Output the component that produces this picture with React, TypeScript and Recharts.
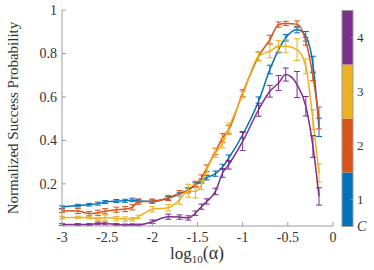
import React from 'react';
import { LineChart, Line, XAxis, YAxis, ErrorBar } from 'recharts';

// log10(alpha) sample positions
const xValues = [
  -3, -2.824, -2.699, -2.602, -2.523, -2.398, -2.301, -2.222, -2.155, -2,
  -1.824, -1.699, -1.602, -1.523, -1.456, -1.398, -1.301, -1.222, -1.155, -1,
  -0.824, -0.699, -0.602, -0.523, -0.398, -0.301, -0.222, -0.155,
];

// C = 1
const c1Mean = [
  0.093, 0.1, 0.104, 0.109, 0.116, 0.121, 0.122, 0.126, 0.121, 0.119,
  0.134, 0.153, 0.172, 0.195, 0.213, 0.228, 0.247, 0.278, 0.318, 0.426,
  0.58, 0.726, 0.818, 0.872, 0.91, 0.879, 0.749, 0.46,
];
const c1Err = [
  0.006, 0.006, 0.006, 0.007, 0.007, 0.007, 0.007, 0.008, 0.008, 0.007,
  0.008, 0.008, 0.008, 0.01, 0.01, 0.01, 0.012, 0.012, 0.015, 0.015,
  0.02, 0.02, 0.015, 0.015, 0.015, 0.022, 0.038, 0.042,
];

// C = 2
const c2Mean = [
  0.076, 0.075, 0.063, 0.067, 0.074, 0.081, 0.084, 0.092, 0.118, 0.12,
  0.135, 0.157, 0.17, 0.2, 0.226, 0.272, 0.349, 0.411, 0.449, 0.618,
  0.787, 0.864, 0.933, 0.938, 0.935, 0.856, 0.695, 0.503,
];
const c2Err = [
  0.008, 0.012, 0.01, 0.012, 0.012, 0.012, 0.012, 0.012, 0.012, 0.01,
  0.012, 0.012, 0.012, 0.012, 0.015, 0.015, 0.015, 0.02, 0.02, 0.015,
  0.02, 0.02, 0.012, 0.01, 0.015, 0.018, 0.02, 0.05,
];

// C = 3
const c3Mean = [
  0.045, 0.045, 0.045, 0.038, 0.045, 0.04, 0.038, 0.037, 0.048, 0.083,
  0.09, 0.126, 0.168, 0.165, 0.195, 0.265, 0.342, 0.388, 0.457, 0.61,
  0.787, 0.81, 0.833, 0.833, 0.818, 0.741, 0.495, 0.25,
];
const c3Err = [
  0.006, 0.006, 0.006, 0.008, 0.012, 0.01, 0.01, 0.008, 0.008, 0.012,
  0.015, 0.02, 0.03, 0.03, 0.02, 0.02, 0.02, 0.023, 0.023, 0.015,
  0.02, 0.03, 0.026, 0.03, 0.05, 0.034, 0.046, 0.042,
];

// C = 4
const c4Mean = [
  0.013, 0.013, 0.013, 0.018, 0.018, 0.013, 0.011, 0.012, 0.011, 0.026,
  0.049, 0.047, 0.043, 0.065, 0.095, 0.119, 0.165, 0.25, 0.288, 0.395,
  0.541, 0.626, 0.664, 0.703, 0.657, 0.557, 0.372, 0.142,
];
const c4Err = [
  0.004, 0.004, 0.004, 0.006, 0.006, 0.004, 0.004, 0.004, 0.004, 0.008,
  0.012, 0.01, 0.01, 0.01, 0.012, 0.012, 0.015, 0.02, 0.02, 0.042,
  0.03, 0.027, 0.035, 0.03, 0.06, 0.045, 0.05, 0.04,
];

const seriesKeys = ['c1', 'c2', 'c3', 'c4'];
const seriesColors = ['#0072BD', '#D95319', '#EDB120', '#7E2F8E'];
const colorbarLabels = ['1', '2', '3', '4'];
const xTicks = [-3, -2.5, -2, -1.5, -1, -0.5, 0];
const yTicks = [0.2, 0.4, 0.6, 0.8, 1];
const yDomain = [0.006, 1];

const data = xValues.map((x, i) => ({
  x,
  c1: c1Mean[i], c1e: c1Err[i],
  c2: c2Mean[i], c2e: c2Err[i],
  c3: c3Mean[i], c3e: c3Err[i],
  c4: c4Mean[i], c4e: c4Err[i],
}));

const FONT = '"Liberation Serif", "Times New Roman", serif';
const AXIS = '#9c9c9c';
const TEXT = '#333333';
const tickStyle = { fontFamily: FONT, fontSize: 14, fill: TEXT, style: { fontFamily: FONT } };

// Colorbar geometry
const CB_LEFT = 342;
const CB_RIGHT = 353;
const CB_TOP = 10.5;
const CB_BOTTOM = 226.5;

export default function App() {
  const segH = (CB_BOTTOM - CB_TOP) / colorbarLabels.length;
  return (
    <div style={{ position: 'absolute', left: 0, top: 0, width: 374, height: 270, background: '#fff', fontFamily: FONT }}>
      <LineChart
        width={374}
        height={270}
        data={data}
        margin={{ top: 10, right: 41, bottom: 14, left: 12 }}
        style={{ fontFamily: FONT }}
      >
        <XAxis
          dataKey="x"
          type="number"
          domain={[-3, 0]}
          ticks={xTicks}
          allowDataOverflow
          height={30}
          stroke={AXIS}
          tickSize={-4}
          tickMargin={10}
          tick={tickStyle}
        />
        <XAxis
          xAxisId="top"
          orientation="top"
          dataKey="x"
          type="number"
          domain={[-3, 0]}
          ticks={xTicks}
          height={0}
          stroke={AXIS}
          tickSize={-4}
          tick={false}
        />
        <YAxis
          type="number"
          domain={yDomain}
          ticks={yTicks}
          allowDataOverflow
          width={50}
          stroke={AXIS}
          tickSize={-4}
          tickMargin={9}
          tick={tickStyle}
        />
        <YAxis
          yAxisId="right"
          orientation="right"
          type="number"
          domain={yDomain}
          ticks={yTicks}
          width={0}
          stroke={AXIS}
          tickSize={-4}
          tick={false}
        />
        {seriesKeys.map((k, i) => (
          <Line
            key={k}
            dataKey={k}
            type="monotone"
            stroke={seriesColors[i]}
            strokeWidth={1.5}
            dot={false}
            isAnimationActive={false}
          >
            <ErrorBar
              dataKey={k + 'e'}
              direction="y"
              width={3}
              stroke={seriesColors[i]}
              strokeWidth={1}
              isAnimationActive={false}
            />
          </Line>
        ))}
      </LineChart>
      <svg
        width={374}
        height={270}
        style={{ position: 'absolute', left: 0, top: 0, pointerEvents: 'none', fontFamily: FONT }}
      >
        <text
          x={18}
          y={118}
          transform="rotate(-90 18 118)"
          textAnchor="middle"
          style={{ fontFamily: FONT }}
          fontSize={15}
          fill={TEXT}
        >
          Normalized Success Probability
        </text>
        <text x={197} y={259} textAnchor="middle" style={{ fontFamily: FONT }} fontSize={17} fill={TEXT}>
          log<tspan fontSize={11} dy={4}>10</tspan><tspan dy={-4} fontSize={18}>(α)</tspan>
        </text>
        {colorbarLabels.map((lab, i) => {
          const top = CB_BOTTOM - (i + 1) * segH;
          const mid = top + segH / 2;
          return (
            <g key={lab}>
              <rect x={CB_LEFT} y={top} width={CB_RIGHT - CB_LEFT} height={segH} fill={seriesColors[i]} />
              <line x1={CB_RIGHT - 2} x2={CB_RIGHT} y1={mid} y2={mid} stroke={AXIS} strokeWidth={1} />
              <text x={357} y={mid} dy="0.35em" style={{ fontFamily: FONT }} fontSize={13} fill={TEXT}>
                {lab}
              </text>
            </g>
          );
        })}
        <rect
          x={CB_LEFT}
          y={CB_TOP}
          width={CB_RIGHT - CB_LEFT}
          height={CB_BOTTOM - CB_TOP}
          fill="none"
          stroke={AXIS}
          strokeWidth={1}
        />
        <text x={357} y={CB_BOTTOM} dy="0.35em" style={{ fontFamily: FONT, fontStyle: 'italic' }} fontSize={14} fill={TEXT}>
          C
        </text>
      </svg>
    </div>
  );
}
